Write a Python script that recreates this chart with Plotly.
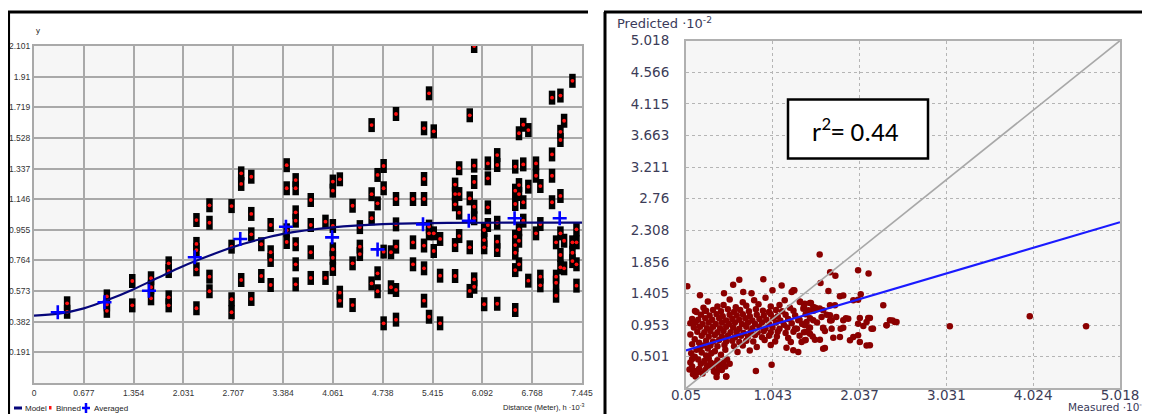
import plotly.graph_objects as go

# The page body has an 8px margin, so the figure covers page pixels 8..1150 x 8..414.
OFF = 8
W, H = 1150 - OFF, 414 - OFF

# ---------------- Left panel: semivariogram ----------------
semi_h_ticks = [0, 0.677, 1.354, 2.031, 2.707, 3.384, 4.061, 4.738, 5.415, 6.092, 6.768, 7.445]
semi_h_labels = ["0", "0.677", "1.354", "2.031", "2.707", "3.384", "4.061", "4.738",
                 "5.415", "6.092", "6.768", "7.445"]
semi_g_ticks = [0.191, 0.382, 0.573, 0.764, 0.955, 1.146, 1.337, 1.528, 1.719, 1.91, 2.101]
semi_g_labels = ["0.191", "0.382", "0.573", "0.764", "0.955", "1.146", "1.337", "1.528",
                 "1.719", "1.91", "2.101"]

binned_h_cols = [0.45, 0.99, 1.335, 1.59, 1.83, 2.207, 2.384, 2.684, 2.815, 2.952, 3.088,
                 3.215, 3.433, 3.555, 3.76, 3.96, 4.06, 4.155, 4.328, 4.427, 4.587, 4.668,
                 4.75, 4.85, 4.918, 5.149, 5.299, 5.367, 5.431, 5.517, 5.721, 5.776, 5.92,
                 5.98, 6.116, 6.166, 6.293, 6.538, 6.589, 6.647, 6.716, 6.82, 6.879, 7.038,
                 7.093, 7.152, 7.202, 7.315, 7.37]
binned_g_cols = [
    [0.497, 0.444], [0.54, 0.49, 0.45], [0.636, 0.484], [0.653, 0.597, 0.528],
    [0.746, 0.698, 0.534, 0.484], [1.016, 0.867, 0.829, 0.709, 0.466],
    [1.108, 0.999, 0.663, 0.572], [1.103, 0.85, 0.522, 0.441], [1.307, 1.241, 0.642],
    [1.286, 1.054, 0.927, 0.524], [0.865, 0.667], [0.985, 0.815, 0.767, 0.611],
    [1.358, 1.214, 0.952, 0.879], [1.265, 1.214, 1.064, 1.012, 0.865, 0.74, 0.615],
    [1.141, 0.985, 0.815, 0.655], [1.006, 0.655], [1.256, 1.199, 0.979, 0.833, 0.781, 0.711],
    [1.27, 0.563, 0.513], [1.105, 0.746, 0.486], [0.972, 0.85, 0.804],
    [1.608, 1.177, 1.027, 0.621], [1.297, 1.12, 0.684, 0.572], [1.353, 1.214, 0.819, 0.372],
    [0.815, 0.597], [1.677, 1.147, 0.989, 0.85, 0.58, 0.395], [1.147, 0.877, 0.74],
    [1.588, 1.272, 1.147, 0.857, 0.715, 0.513], [1.806, 0.975, 0.933, 0.413],
    [1.569, 0.933, 0.823], [0.898, 0.669, 0.372], [1.237, 1.178, 1.114, 0.86, 0.667],
    [1.339, 1.178, 1.062, 0.916], [1.669, 1.151, 0.846, 0.574],
    [2.101, 1.355, 1.253, 1.099, 1.027, 0.646, 0.6], [0.954, 0.891, 0.846, 0.491],
    [1.369, 1.276, 1.095, 0.985], [1.421, 1.359, 0.999, 0.881, 0.829, 0.494],
    [1.349, 1.199, 1.116, 0.912, 0.86, 0.812, 0.704, 0.455],
    [1.557, 1.234, 1.178, 0.958, 0.887, 0.74], [1.61, 1.363, 1.127, 1.012],
    [1.577, 1.224, 0.638], [1.369, 1.292, 0.933], [1.228, 0.991, 0.663, 0.609],
    [1.779, 1.425, 1.292, 1.127], [0.877, 0.663, 0.625, 0.544],
    [1.792, 1.566, 1.515, 1.166, 0.933, 0.798, 0.721], [1.635, 0.887, 0.715],
    [1.884, 0.877, 0.812, 0.76], [0.958, 0.877, 0.74, 0.607],
]

avg_h = [0.323, 0.958, 1.562, 2.184, 2.802, 3.423, 4.05, 4.668, 5.285, 5.907, 6.529, 7.142]
avg_g = [0.441, 0.503, 0.575, 0.784, 0.898, 0.974, 0.908, 0.833, 0.989, 1.012, 1.027, 1.027]

model_h = [0, 0.338, 0.677, 1.015, 1.354, 1.692, 2.031, 2.369, 2.707, 3.046, 3.384,
           4.061, 4.738, 5.415, 6.092, 6.768, 7.445]
model_g = [0.42, 0.432, 0.465, 0.52, 0.585, 0.658, 0.73, 0.792, 0.848, 0.893, 0.93,
           0.97, 0.99, 0.997, 0.999, 1.0, 1.0]

# ---------------- Right panel: predicted vs measured ----------------
meas_ticks = [0.05, 1.043, 2.037, 3.031, 4.024, 5.018]
meas_labels = ["0.05", "1.043", "2.037", "3.031", "4.024", "5.018"]
pred_ticks = [0.501, 0.953, 1.405, 1.856, 2.308, 2.76, 3.211, 3.663, 4.115, 4.566, 5.018]
pred_labels = ["0.501", "0.953", "1.405", "1.856", "2.308", "2.76", "3.211", "3.663",
               "4.115", "4.566", "5.018"]

# lower-left group
meas_low = [0.10, 0.12, 0.14, 0.13, 0.16, 0.18, 0.20, 0.22, 0.19, 0.15, 0.11, 0.24, 0.27,
            0.29, 0.26, 0.31, 0.33, 0.35, 0.37, 0.40, 0.42, 0.38, 0.41, 0.44, 0.46, 0.48,
            0.50, 0.52, 0.28, 0.23, 0.34, 0.17, 0.21, 0.30, 0.45, 0.55, 0.51, 0.40, 0.09,
            0.12, 0.12, 0.20, 0.15, 0.10, 0.25]
pred_low = [0.42, 0.36, 0.30, 0.25, 0.22, 0.28, 0.33, 0.40, 0.46, 0.50, 0.55, 0.26, 0.31,
            0.37, 0.44, 0.48, 0.42, 0.35, 0.29, 0.27, 0.33, 0.40, 0.45, 0.38, 0.31, 0.42,
            0.36, 0.46, 0.52, 0.56, 0.55, 0.60, 0.63, 0.62, 0.53, 0.40, 0.22, 0.21, 0.32,
            0.47, 0.68, 0.70, 0.75, 0.82, 0.66]

# main dense group
meas_main = [
    0.30, 0.55, 0.83, 0.96, 1.18, 1.355, 1.48, 0.70,
    0.41, 0.48, 0.62, 0.74, 0.88, 1.02, 1.12, 1.24, 1.40, 1.53, 0.25,
    0.17, 0.28, 0.36, 0.45, 0.53, 0.60, 0.67, 0.77, 0.85, 0.93, 1.00, 1.08, 1.15, 1.28, 1.51, 1.58,
    0.22, 0.32, 0.40, 0.47, 0.55, 0.63, 0.70, 0.78, 0.86, 0.94, 1.02, 1.10, 1.19, 1.30, 1.42, 1.66, 1.77,
    0.12, 0.19, 0.27, 0.35, 0.43, 0.51, 0.58, 0.66, 0.73, 0.81, 0.89, 0.97, 1.05, 1.13, 1.22, 1.35, 1.47, 1.70, 1.88,
    0.10, 0.16, 0.24, 0.31, 0.39, 0.46, 0.54, 0.61, 0.69, 0.76, 0.84, 0.92, 1.00, 1.08, 1.17, 1.26, 1.38, 1.55,
    0.14, 0.21, 0.29, 0.36, 0.44, 0.51, 0.59, 0.66, 0.74, 0.81, 0.89, 0.96, 1.04, 1.12, 1.21, 1.32, 1.46, 1.62, 1.82, 2.08,
    0.18, 0.26, 0.33, 0.41, 0.48, 0.56, 0.63, 0.71, 0.79, 0.87, 0.94, 1.02, 1.10, 1.19, 1.28, 1.40,
    0.23, 0.31, 0.38, 0.46, 0.53, 0.61, 0.68, 0.76, 0.84, 0.92, 1.00, 1.09, 1.22, 1.35, 1.50,
    0.28, 0.36, 0.43, 0.51, 0.58, 0.66, 0.74, 0.82, 0.95, 1.07, 1.25, 1.42,
    0.33, 0.41, 0.49, 0.60, 0.70, 0.86, 1.02, 1.20,
    0.38, 0.50, 0.64, 0.78,
]
pred_main = [
    1.29, 1.32, 1.31, 1.345, 1.31, 1.29, 1.27, 1.28,
    1.22, 1.24, 1.21, 1.23, 1.25, 1.22, 1.24, 1.20, 1.22, 1.20, 1.20,
    1.14, 1.16, 1.17, 1.15, 1.18, 1.14, 1.17, 1.15, 1.18, 1.16, 1.14, 1.17, 1.15, 1.16, 1.16, 1.19,
    1.10, 1.09, 1.11, 1.08, 1.10, 1.09, 1.11, 1.08, 1.10, 1.09, 1.11, 1.08, 1.10, 1.09, 1.11, 1.10, 1.07,
    1.04, 1.03, 1.05, 1.03, 1.05, 1.02, 1.04, 1.03, 1.05, 1.02, 1.04, 1.03, 1.05, 1.02, 1.04, 1.03, 1.05, 1.02, 1.05,
    0.98, 0.99, 0.97, 0.99, 0.97, 0.99, 0.97, 0.99, 0.97, 0.99, 0.97, 0.99, 0.97, 0.99, 0.96, 0.98, 0.97, 0.99,
    0.92, 0.93, 0.91, 0.93, 0.91, 0.93, 0.92, 0.90, 0.93, 0.91, 0.93, 0.91, 0.92, 0.90, 0.92, 0.90, 0.92, 0.91, 0.90, 0.94,
    0.86, 0.85, 0.87, 0.85, 0.87, 0.85, 0.86, 0.84, 0.86, 0.85, 0.87, 0.85, 0.86, 0.84, 0.86, 0.85,
    0.80, 0.79, 0.81, 0.79, 0.80, 0.78, 0.80, 0.79, 0.81, 0.78, 0.80, 0.79, 0.77, 0.80, 0.79,
    0.73, 0.72, 0.74, 0.72, 0.73, 0.71, 0.73, 0.72, 0.74, 0.72, 0.71, 0.74,
    0.66, 0.65, 0.67, 0.65, 0.66, 0.64, 0.67, 0.63,
    0.58, 0.60, 0.57, 0.59,
]

# right-hand spread of the cloud
meas_side = [1.354, 1.41, 1.469, 1.507, 1.393, 1.45, 1.526, 1.62, 1.698, 1.755, 1.812, 1.85,
             1.965, 2.02, 1.335, 1.43, 1.507, 1.602, 1.698, 1.717, 1.85, 1.907, 2.04, 2.136,
             2.117, 2.02, 2.384, 2.46, 2.346, 1.297, 1.41, 1.469, 1.62, 1.64, 1.717, 1.85,
             2.174, 1.43, 1.469, 1.526, 1.583, 1.736, 1.812, 1.927, 1.965, 2.02, 2.04, 2.117,
             1.373, 1.41, 1.64, 1.278, 1.335, 2.308, 1.59, 1.278, 1.68, 2.05]
pred_side = [1.283, 1.26, 1.269, 1.212, 1.188, 1.164, 1.174, 1.164, 1.236, 1.236, 1.364, 1.378,
             1.307, 1.317, 1.021, 0.998, 1.021, 1.069, 1.093, 1.021, 1.021, 1.045, 1.055, 1.055,
             0.998, 0.974, 1.021, 0.998, 0.95, 0.902, 0.95, 0.917, 0.917, 0.869, 0.902, 0.917,
             0.902, 0.855, 0.831, 0.745, 0.745, 0.774, 0.783, 0.736, 0.783, 0.807, 0.712, 0.66,
             0.712, 0.736, 0.626, 0.593, 0.569, 1.236, 1.555, 1.45, 1.44, 1.393]

# isolated points
meas_out = [0.065, 0.21, 0.66, 0.935, 0.59, 1.58, 1.70, 1.76, 2.02, 2.14, 0.485, 0.705, 0.80,
            1.04, 1.145, 1.26, 1.29, 1.03, 0.85, 0.51, 0.40, 1.62, 2.155, 2.19, 2.345, 2.415,
            2.44, 2.155, 3.07, 3.985, 4.63, 5.02, 0.153, 0.267]
pred_out = [1.507, 1.38, 1.60, 1.61, 1.53, 1.964, 1.71, 1.66, 1.736, 1.69, 1.41, 1.426, 1.41,
            1.45, 1.52, 1.426, 1.45, 0.388, 0.298, 0.22, 0.27, 0.617, 1.055, 0.90, 0.95, 1.02,
            0.997, 0.664, 0.936, 1.08, 0.936, 1.198, 1.155, 1.155]

ref_line = [0.05, 5.018]
reg_x = [0.05, 5.018]
reg_y = [0.592, 2.424]

# ---------------- build ----------------
binned_h, binned_g = [], []
for h, gs in zip(binned_h_cols, binned_g_cols):
    for g in gs:
        binned_h.append(h)
        binned_g.append(g)

measured = meas_low + meas_main + meas_side + meas_out
predicted = pred_low + pred_main + pred_side + pred_out


def px_x(p):
    """page pixel x -> paper fraction"""
    return (p - OFF) / W


def px_y(p):
    """page pixel y -> paper fraction"""
    return 1 - (p - OFF) / H


NARROW = "Liberation Sans, Arial, sans-serif"
WIDE = "DejaVu Sans, Verdana, sans-serif"

fig = go.Figure()

fig.add_trace(go.Scatter(
    x=binned_h, y=binned_g, mode="markers", xaxis="x", yaxis="y",
    marker=dict(symbol="line-ns", size=10, color="black",
                line=dict(width=6.5, color="black")),
    showlegend=False, hoverinfo="skip"))
fig.add_trace(go.Scatter(
    x=binned_h, y=binned_g, mode="markers", xaxis="x", yaxis="y", name="Binned",
    marker=dict(symbol="circle", size=3.8, color="#ff1010"),
    showlegend=False))
fig.add_trace(go.Scatter(
    x=model_h, y=model_g, mode="lines", xaxis="x", yaxis="y", name="Model",
    line=dict(color="#06067a", width=2.2, shape="spline"), showlegend=False))
fig.add_trace(go.Scatter(
    x=avg_h, y=avg_g, mode="markers", xaxis="x", yaxis="y", name="Averaged",
    marker=dict(symbol="cross-thin", size=10, color="#0000ff",
                line=dict(width=2.6, color="#0000ff")),
    showlegend=False))

fig.add_trace(go.Scatter(
    x=measured, y=predicted, mode="markers", xaxis="x2", yaxis="y2",
    marker=dict(symbol="circle", size=6.5, color="#8b0000"),
    cliponaxis=False, showlegend=False))
fig.add_trace(go.Scatter(
    x=ref_line, y=ref_line, mode="lines", xaxis="x2", yaxis="y2",
    line=dict(color="#a8a8a8", width=1.6), showlegend=False))
fig.add_trace(go.Scatter(
    x=reg_x, y=reg_y, mode="lines", xaxis="x2", yaxis="y2",
    line=dict(color="#1a1aff", width=2.2), showlegend=False))

left_grid = dict(showgrid=True, gridcolor="#a9a9a9", gridwidth=2, zeroline=False,
                 showline=True, linecolor="#a9a9a9", linewidth=2, mirror=True, ticks="",
                 ticklen=0, automargin=False,
                 tickfont=dict(family=NARROW, size=8.5, color="#333333"))
right_grid = dict(showgrid=True, gridcolor="#b5b5b5", gridwidth=1, griddash="dot",
                  zeroline=False, showline=True, linecolor="#b0b0b0", linewidth=2,
                  mirror=True, ticks="", ticklen=0, automargin=False,
                  tickfont=dict(family=WIDE, size=13.5, color="#3c3c58"))

fig.update_layout(
    width=W, height=H, margin=dict(l=0, r=0, t=0, b=0, pad=0), autosize=False,
    paper_bgcolor="white", plot_bgcolor="#f6f6f6",
    xaxis=dict(domain=[px_x(34), px_x(582)], range=[0, 7.445], tickmode="array",
               tickvals=semi_h_ticks, ticktext=semi_h_labels, anchor="y",
               ticklabelstandoff=1, **left_grid),
    yaxis=dict(domain=[px_y(383), px_y(46)], range=[0, 2.101], tickmode="array",
               tickvals=semi_g_ticks, ticktext=semi_g_labels, anchor="x",
               ticklabelstandoff=0, **left_grid),
    xaxis2=dict(domain=[px_x(686), px_x(1120)], range=[0.05, 5.018], tickmode="array",
                tickvals=meas_ticks, ticktext=meas_labels, anchor="y2",
                ticklabelstandoff=-7, **right_grid),
    yaxis2=dict(domain=[px_y(388.3), px_y(40.7)], range=[0.05, 5.018], tickmode="array",
                tickvals=pred_ticks, ticktext=pred_labels, anchor="x2",
                ticklabelstandoff=12, **right_grid),
)

shapes = [
    # panel frames
    dict(type="line", x0=px_x(8), x1=px_x(588), y0=px_y(12), y1=px_y(12),
         line=dict(color="black", width=3)),
    dict(type="line", x0=px_x(8.8), x1=px_x(8.8), y0=px_y(12), y1=px_y(416),
         line=dict(color="black", width=2.5)),
    dict(type="line", x0=px_x(604), x1=px_x(1152), y0=px_y(12), y1=px_y(12),
         line=dict(color="black", width=3)),
    dict(type="line", x0=px_x(605), x1=px_x(605), y0=px_y(12), y1=px_y(416),
         line=dict(color="black", width=3)),
    # r^2 box
    dict(type="rect", x0=px_x(788), x1=px_x(928), y0=px_y(158.5), y1=px_y(99.5),
         line=dict(color="black", width=2.5), fillcolor="white"),
    # legend symbols
    dict(type="line", x0=px_x(14), x1=px_x(22), y0=px_y(408), y1=px_y(408),
         line=dict(color="#06067a", width=3)),
    dict(type="rect", x0=px_x(49), x1=px_x(51.5), y0=px_y(409.5), y1=px_y(406),
         line=dict(width=0), fillcolor="#ff1010"),
    dict(type="line", x0=px_x(82), x1=px_x(90), y0=px_y(408), y1=px_y(408),
         line=dict(color="#0000ff", width=2.5)),
    dict(type="line", x0=px_x(86), x1=px_x(86), y0=px_y(403), y1=px_y(413),
         line=dict(color="#0000ff", width=2.5)),
]
for s in shapes:
    s.update(xref="paper", yref="paper")
fig.update_layout(shapes=shapes)

small = dict(family=NARROW, size=8, color="#222222")
annotations = [
    dict(x=px_x(34), y=px_y(30), text="y", xanchor="left", yanchor="middle", font=small),
    dict(x=px_x(586), y=px_y(407), text="Distance (Meter), h ·10<sup>-3</sup>",
         xanchor="right", yanchor="middle", font=dict(family=NARROW, size=7.5, color="#222222")),
    dict(x=px_x(23), y=px_y(408), text="Model", xanchor="left", yanchor="middle", font=small),
    dict(x=px_x(54), y=px_y(408), text="Binned", xanchor="left", yanchor="middle", font=small),
    dict(x=px_x(92), y=px_y(408), text="Averaged", xanchor="left", yanchor="middle", font=small),
    dict(x=px_x(615), y=px_y(23), text="Predicted ·10<sup>-2</sup>", xanchor="left",
         yanchor="middle", font=dict(family=WIDE, size=13, color="#3a3a5a")),
    dict(x=px_x(1149), y=px_y(414.5), text="Measured ·10<sup>-2</sup>", xanchor="right",
         yanchor="bottom", font=dict(family=WIDE, size=10.5, color="#3a3a5a")),
    dict(x=px_x(856), y=px_y(130), text="r<sup>2</sup>= 0.44", xanchor="center",
         yanchor="middle", font=dict(family="Carlito, Open Sans, Liberation Sans, sans-serif",
                                     size=27, color="black")),
]
for a in annotations:
    a.update(xref="paper", yref="paper", showarrow=False)
fig.update_layout(annotations=annotations)

fig.write_html("out.html")
